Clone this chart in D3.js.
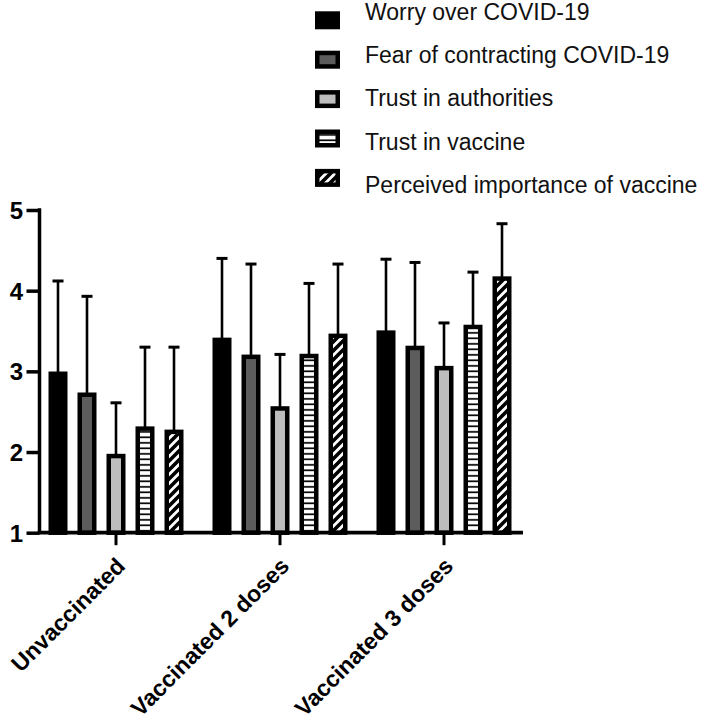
<!DOCTYPE html>
<html>
<head>
<meta charset="utf-8">
<script src="https://cdn.jsdelivr.net/npm/d3@7"></script>
<style>
  html, body { margin: 0; padding: 0; background: #fff; }
  svg { display: block; }
</style>
</head>
<body>
<svg id="chart" width="709" height="726"></svg>
<script>
// ---- data ----
const groups = ["Unvaccinated", "Vaccinated 2 doses", "Vaccinated 3 doses"];
const seriesNames = ["Worry over COVID-19", "Fear of contracting COVID-19", "Trust in authorities", "Trust in vaccine", "Perceived importance of vaccine"];
const worryMean       = [2.97, 3.39, 3.48];
const worrySD         = [1.15, 1.01, 0.91];
const fearMean        = [2.71, 3.18, 3.29];
const fearSD          = [1.22, 1.15, 1.06];
const authoritiesMean = [1.95, 2.54, 3.04];
const authoritiesSD   = [0.66, 0.67, 0.56];
const vaccineMean     = [2.29, 3.19, 3.55];
const vaccineSD       = [1.01, 0.90, 0.68];
const importanceMean  = [2.25, 3.44, 4.15];
const importanceSD    = [1.05, 0.89, 0.68];
const yTicks = [1, 2, 3, 4, 5];

const means = [worryMean, fearMean, authoritiesMean, vaccineMean, importanceMean];
const sds = [worrySD, fearSD, authoritiesSD, vaccineSD, importanceSD];

const fills = ["#000000", "#5c5c5c", "#bdbdbd", "url(#hstripe)", "url(#diag)"];

const svg = d3.select("#chart");
svg.append("rect").attr("width", 709).attr("height", 726).attr("fill", "#fff");

// patterns
const defs = svg.append("defs");
const hp = defs.append("pattern").attr("id", "hstripe").attr("patternUnits", "userSpaceOnUse")
  .attr("width", 10).attr("height", 5.5);
hp.append("rect").attr("width", 10).attr("height", 5.5).attr("fill", "#fff");
hp.append("rect").attr("y", 2).attr("width", 10).attr("height", 1.7).attr("fill", "#000");

const dp = defs.append("pattern").attr("id", "diag").attr("patternUnits", "userSpaceOnUse")
  .attr("width", 9).attr("height", 9);
dp.append("rect").attr("width", 9).attr("height", 9).attr("fill", "#fff");
dp.append("path").attr("d", "M-1,10 L10,-1 M-3,3 L3,-3 M6,12 L12,6")
  .attr("stroke", "#000").attr("stroke-width", 3.6).attr("fill", "none");

// scales
const y = d3.scaleLinear().domain([1, 5]).range([532.7, 210]);
const x0 = d3.scaleBand().domain(groups).range([34, 526]).paddingInner(0).paddingOuter(0);
const x1 = d3.scaleBand().domain(seriesNames).range([0, x0.bandwidth()]).paddingInner(0.345).paddingOuter(0.5);

const sw = 4.5;
const axisX = 39.5;

// data rows
const rows = [];
groups.forEach((g, gi) => {
  seriesNames.forEach((s, si) => {
    rows.push({ g, s, si, mean: means[si][gi], sd: sds[si][gi] });
  });
});

// error bars (behind bars)
const eb = svg.append("g");
rows.forEach(d => {
  const cx = x0(d.g) + x1(d.s) + x1.bandwidth() / 2;
  eb.append("line").attr("x1", cx).attr("x2", cx)
    .attr("y1", y(d.mean)).attr("y2", y(d.mean + d.sd))
    .attr("stroke", "#000").attr("stroke-width", 2.6);
  eb.append("line").attr("x1", cx - 5.5).attr("x2", cx + 5.5)
    .attr("y1", y(d.mean + d.sd)).attr("y2", y(d.mean + d.sd))
    .attr("stroke", "#000").attr("stroke-width", 3);
});

// bars
svg.append("g").selectAll("rect").data(rows).join("rect")
  .attr("x", d => x0(d.g) + x1(d.s) + sw / 2)
  .attr("width", x1.bandwidth() - sw)
  .attr("y", d => y(d.mean))
  .attr("height", d => y(1) - y(d.mean))
  .attr("fill", d => fills[d.si])
  .attr("stroke", "#000")
  .attr("stroke-width", sw);

// y axis
const yAxis = svg.append("g").attr("transform", `translate(${axisX},0)`)
  .call(d3.axisLeft(y).tickValues(yTicks).tickFormat(d3.format("d")).tickSize(13).tickSizeOuter(0).tickPadding(3.5));
yAxis.select(".domain").attr("stroke", "#000").attr("stroke-width", 3.5)
  .attr("d", `M0,${y(5) - 1.75}V${y(1)}`);
yAxis.selectAll(".tick line").attr("stroke", "#000").attr("stroke-width", 3.5);
yAxis.selectAll(".tick text")
  .attr("font-family", "Liberation Sans, Arial, sans-serif")
  .attr("font-weight", "bold").attr("font-size", 24).attr("fill", "#000")
  .attr("dy", "0.36em");

// x axis
const xAxis = svg.append("g").attr("transform", `translate(0,${y(1)})`)
  .call(d3.axisBottom(x0).tickSize(12.5).tickFormat(""));
xAxis.select(".domain").attr("stroke", "#000").attr("stroke-width", 3.7)
  .attr("d", `M${axisX - 1.75},0H523`);
xAxis.selectAll(".tick line").attr("stroke", "#000").attr("stroke-width", 3);

// x labels
svg.append("g").selectAll("text").data(groups).join("text")
  .attr("transform", d => `translate(${x0(d) + x0.bandwidth() / 2 - 1},556) rotate(-45)`)
  .attr("text-anchor", "end")
  .attr("dy", "0.71em")
  .attr("font-family", "Liberation Sans, Arial, sans-serif")
  .attr("font-weight", "bold").attr("font-size", 23).attr("fill", "#000")
  .text(d => d);

// legend
const lg = svg.append("g");
seriesNames.forEach((s, i) => {
  const cy = 20.3 + i * 39.4;
  lg.append("rect")
    .attr("x", 315 + sw / 2).attr("y", cy - 9 + sw / 2)
    .attr("width", 25 - sw).attr("height", 18 - sw)
    .attr("fill", fills[i]).attr("stroke", "#000").attr("stroke-width", sw);
  lg.append("text")
    .attr("x", 365).attr("y", 19.5 + i * 43.4)
    .attr("font-family", "Liberation Sans, Arial, sans-serif")
    .attr("font-size", 23).attr("fill", "#111")
    .text(s);
});
</script>
</body>
</html>
